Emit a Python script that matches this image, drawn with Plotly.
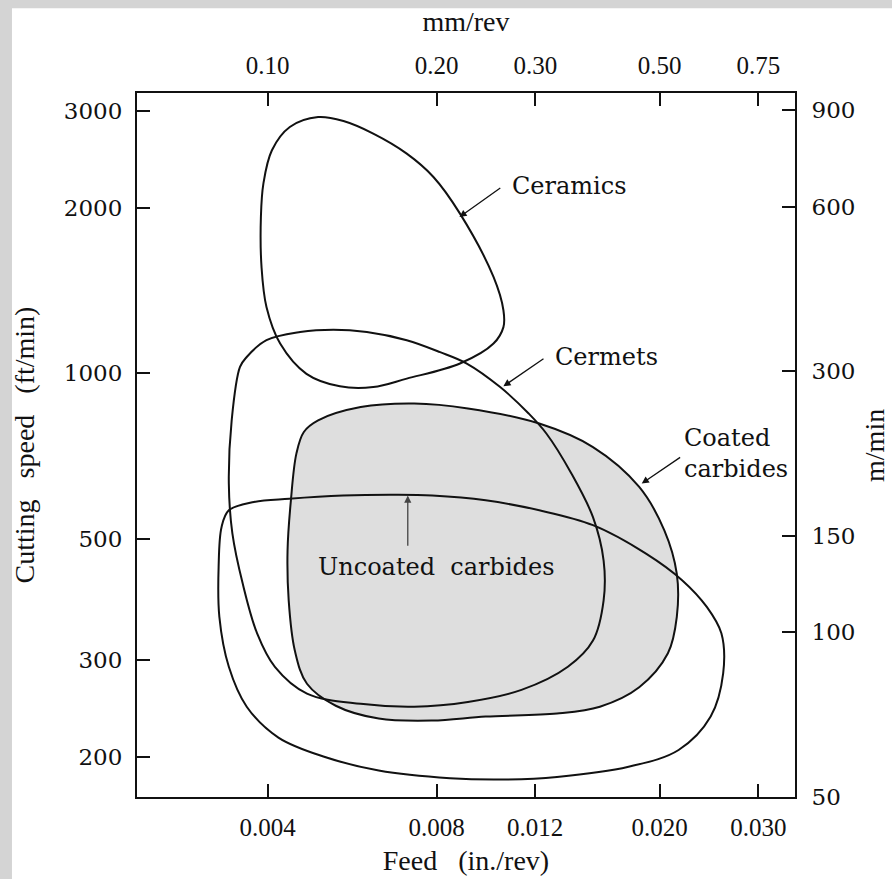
import numpy as np
import plotly.graph_objects as go

# ---------------- data (feed in in./rev, cutting speed in ft/min) ----------------
ceramics_feed = [0.00492, 0.00546, 0.00617, 0.00708, 0.00790, 0.00881, 0.01011, 0.01053,
                 0.01053, 0.01011, 0.00881, 0.00708, 0.00617, 0.00538, 0.00469, 0.00421,
                 0.00398, 0.00390, 0.00389, 0.00393, 0.00407, 0.00438]
ceramics_speed = [2930, 2881, 2733, 2513, 2279, 1954, 1498, 1303,
                  1214, 1133, 1042, 978, 944, 947, 998, 1133,
                  1321, 1562, 1926, 2217, 2549, 2810]

cermets_feed = [0.00524, 0.00601, 0.00708, 0.00812, 0.00906, 0.01039, 0.01168, 0.01256,
                0.01392, 0.01521, 0.01589, 0.01589, 0.01521, 0.01372, 0.01134, 0.00910,
                0.00730, 0.00586, 0.00470, 0.00412, 0.00383, 0.00361, 0.00346, 0.00341,
                0.00345, 0.00357, 0.00367, 0.00398, 0.00457]
cermets_speed = [1201, 1189, 1149, 1093, 1042, 944, 845, 777,
                 657, 547, 456, 386, 326, 292, 265, 252,
                 247, 250, 261, 292, 336, 414, 511, 630,
                 821, 1027, 1071, 1149, 1189]

coated_feed = [0.00492, 0.00586, 0.00730, 0.00910, 0.01220, 0.01521, 0.01839, 0.02038,
               0.02146, 0.02146, 0.02069, 0.01839, 0.01565, 0.01312, 0.00979, 0.00786,
               0.00631, 0.00529, 0.00470, 0.00447, 0.00436, 0.00434, 0.00440, 0.00450,
               0.00464]
coated_speed = [821, 868, 881, 863, 810, 734, 621, 518,
                431, 360, 309, 268, 247, 240, 237, 233,
                235, 248, 272, 313, 386, 476, 587, 714,
                782]

uncoated_feed = [0.00378, 0.00437, 0.00545, 0.00678, 0.00786, 0.00979, 0.01220, 0.01521,
                 0.01894, 0.02193, 0.02429, 0.02577, 0.02596, 0.02466, 0.02162, 0.01760,
                 0.01312, 0.01054, 0.00846, 0.00631, 0.00506, 0.00418, 0.00367, 0.00341,
                 0.00328, 0.00327, 0.00331, 0.00341]
uncoated_speed = [583, 591, 599, 601, 599, 587, 563, 529,
                  469, 420, 375, 336, 284, 237, 206, 192,
                  184, 182, 183, 189, 200, 217, 247, 292,
                  360, 444, 525, 563]

# labels: text, anchor point (feed, speed), arrow tail, arrow tip
label_texts = ["Ceramics", "Cermets", "Coated<br>carbides", "Uncoated\u00a0\u00a0carbides"]
label_feed = [0.01082, 0.01291, 0.02193, 0.00800]
label_speed = [2192, 1069, 714, 444]
label_xanchor = ["left", "left", "left", "center"]
arrow_tail_feed = [0.01046, 0.01249, 0.02189, 0.00711]
arrow_tail_speed = [2185, 1068, 706, 482]
arrow_tip_feed = [0.00879, 0.01053, 0.01858, 0.00711]
arrow_tip_speed = [1926, 947, 630, 599]
arrow_colors = ["#111111", "#111111", "#111111", "#444444"]

# tick labels
feed_ticks = [0.004, 0.008, 0.012, 0.020, 0.030]
feed_ticktext = ["0.004", "0.008", "0.012", "0.020", "0.030"]
mm_ticks = [0.10, 0.20, 0.30, 0.50, 0.75]
mm_ticktext = ["0.10", "0.20", "0.30", "0.50", "0.75"]
speed_ticks = [200, 300, 500, 1000, 2000, 3000]
speed_ticktext = ["200", "300", "500", "1000", "2000", "3000"]
mmin_ticks = [50, 100, 150, 300, 600, 900]
mmin_ticktext = ["50", "100", "150", "300", "600", "900"]

FONT = "DejaVu Serif"
TFONT = "Liberation Serif"
LINE = "#111111"


def closed(xs, ys):
    return list(xs) + [xs[0]], list(ys) + [ys[0]]


fig = go.Figure()

# coated carbides (filled) first
cx, cy = closed(coated_feed, coated_speed)
fig.add_trace(go.Scatter(x=cx, y=cy, mode="lines", fill="toself", fillcolor="#dedede",
                         line=dict(color=LINE, width=2, shape="spline", smoothing=1.0),
                         hoverinfo="skip", showlegend=False, name="Coated carbides"))

for xs, ys, nm in [(cermets_feed, cermets_speed, "Cermets"),
                   (uncoated_feed, uncoated_speed, "Uncoated carbides"),
                   (ceramics_feed, ceramics_speed, "Ceramics")]:
    px_, py_ = closed(xs, ys)
    fig.add_trace(go.Scatter(x=px_, y=py_, mode="lines",
                             line=dict(color=LINE, width=2, shape="spline", smoothing=1.0),
                             hoverinfo="skip", showlegend=False, name=nm))

# empty trace on the secondary axes so they are drawn
fig.add_trace(go.Scatter(x=[], y=[], xaxis="x2", yaxis="y2", showlegend=False, hoverinfo="skip"))

annotations = []
for t, fx, fy, xa in zip(label_texts, label_feed, label_speed, label_xanchor):
    annotations.append(dict(x=np.log10(fx), y=np.log10(fy), xref="x", yref="y", text=t,
                            showarrow=False, xanchor=xa, yanchor="middle", align="left",
                            font=dict(family=FONT, size=24, color="#111111")))
for tx, ty, hx, hy, col in zip(arrow_tail_feed, arrow_tail_speed, arrow_tip_feed,
                               arrow_tip_speed, arrow_colors):
    annotations.append(dict(x=np.log10(hx), y=np.log10(hy), xref="x", yref="y",
                            ax=np.log10(tx), ay=np.log10(ty), axref="x", ayref="y",
                            text="", showarrow=True, arrowhead=2, arrowsize=1.1,
                            arrowwidth=1.3, arrowcolor=col, standoff=0))

xtickfont = dict(family=TFONT, size=25, color="#111111")
ytickfont = dict(family=FONT, size=23, color="#111111")
titlefont = dict(family=TFONT, size=28, color="#111111")

# right-hand axis title, placed at the right edge of the page
annotations.append(dict(x=1.12, y=0.5, xref="paper", yref="paper", text="m/min",
                        textangle=-90, showarrow=False, xanchor="center", yanchor="middle",
                        font=titlefont))

common = dict(type="log", showgrid=False, zeroline=False, showline=True, linecolor="#111111",
              linewidth=2, ticks="inside", ticklen=13, tickwidth=1.6, tickcolor="#111111",
              automargin=False)

fig.update_layout(
    width=892, height=879,
    margin=dict(l=137, r=97, t=93, b=82, autoexpand=False),
    paper_bgcolor="#d4d4d4",
    plot_bgcolor="white",
    showlegend=False,
    xaxis=dict(range=[-2.631, -1.4576], tickvals=feed_ticks, ticktext=feed_ticktext,
               ticklabelstandoff=7, tickfont=xtickfont,
               title=dict(text="Feed\u00a0\u00a0\u00a0(in./rev)", font=titlefont, standoff=10),
               **common),
    xaxis2=dict(range=[-1.2331, -0.0597], tickvals=mm_ticks, ticktext=mm_ticktext,
                overlaying="x", side="top", anchor="y", ticklabelstandoff=7,
                tickfont=xtickfont,
                title=dict(text="mm/rev", font=titlefont, standoff=12),
                **common),
    yaxis=dict(range=[2.2282, 3.5107], tickvals=speed_ticks, ticktext=speed_ticktext,
               ticklabelstandoff=8, tickfont=ytickfont,
               title=dict(text="Cutting\u00a0\u00a0\u00a0speed\u00a0\u00a0\u00a0(ft/min)",
                          font=titlefont, standoff=21),
               **common),
    yaxis2=dict(range=[1.698, 2.9858], tickvals=mmin_ticks, ticktext=mmin_ticktext,
                overlaying="y", side="right", anchor="x", ticklabelstandoff=10,
                tickfont=ytickfont,
                **common),
    annotations=annotations,
    shapes=[dict(type="rect", xref="paper", yref="paper", x0=-0.19, x1=1.2, y0=-0.2,
                 y1=1.1203, fillcolor="white", line=dict(width=0), layer="below")],
)

fig.write_html("out.html")
